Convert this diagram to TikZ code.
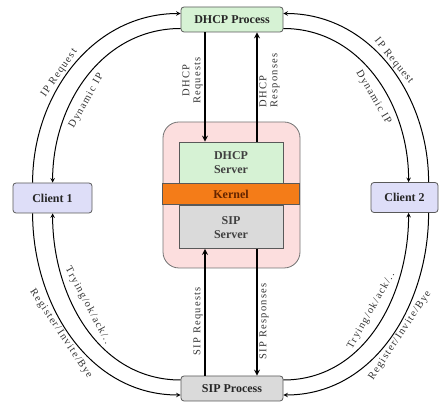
\documentclass[tikz,border=0pt]{standalone}
\usepackage{fontspec}
\setmainfont{Liberation Serif}
\newfontfamily\lblfont[LetterSpace=12]{Liberation Serif}
\usetikzlibrary{positioning, arrows.meta}
\definecolor{procgreen}{RGB}{214,242,212}
\definecolor{clientblue}{RGB}{222,222,248}
\definecolor{procgray}{RGB}{218,218,218}
\definecolor{hostpink}{RGB}{252,222,222}
\definecolor{kernelorange}{RGB}{244,124,24}
\definecolor{kerneltext}{RGB}{100,36,0}
\tikzset{
  process/.style={
    rectangle,
    rounded corners=3pt,
    draw=black!65, thick,
    minimum width=102pt,
    minimum height=25pt,
    inner sep=2pt,
    text centered,
    text=black!85,
    font=\fontsize{12}{14}\selectfont\bfseries
  },
  client/.style={
    process,
    fill=clientblue,
    minimum height=30pt
  },
  server/.style={
    rectangle,
    draw=black!65, thick,
    minimum width=104pt,
    inner sep=2pt,
    align=center,
    text=black!75,
    font=\fontsize{12}{14}\selectfont\bfseries
  },
  arrow/.style={
    draw=black,
    line width=1pt,
    ->,
    >=stealth
  },
  flow/.style={
    arrow,
    line width=1.6pt
  },
  lbl/.style={
    inner sep=1.5pt,
    text=black!80,
    font=\lblfont\fontsize{10.5}{11}\selectfont
  },
  inlbl/.style={
    lbl,
    inner sep=8pt
  }
}

\begin{document}
\begin{tikzpicture}[x=1pt, y=-1pt]
\useasboundingbox (0,0) rectangle (440,403);
% nodes
\node[rectangle, rounded corners=16pt, draw=black!55, thick, fill=hostpink,
      minimum width=137pt, minimum height=146pt] (host) at (231.5,195) {};

\node[server, fill=procgreen, minimum height=41pt] (dserv) at (231,162.5)
  {DHCP\\Server};
\node[server, fill=kernelorange, minimum width=137pt, minimum height=21pt,
      text=kerneltext, below = 0pt of dserv] (kernel) {Kernel};
\node[server, fill=procgray, minimum height=43pt, below = 0pt of kernel] (sserv)
  {SIP\\Server};

\node[process, fill=procgreen] (dhcpp) at (232,19.5) {DHCP Process};
\node[process, fill=procgray] (sipp) at (232,388.5) {SIP Process};
\node[client, minimum width=79pt] (c1) at (52.5,198) {Client 1};
\node[client, minimum width=67pt] (c2) at (404.5,197.5) {Client 2};

\coordinate (reqx) at (205,0);
\coordinate (rspx) at (257,0);

% edges
%% dhcp
\draw [flow] (dhcpp.south -| reqx) -- node[lbl, rotate=90, above, pos=0.44, align=center]
  {DHCP\\Requests} (dserv.north -| reqx);
\draw [flow] (dserv.north -| rspx) -- node[lbl, rotate=90, below, pos=0.56, align=left]
  {DHCP\\Responses} (dhcpp.south -| rspx);

%% sip
\draw [flow] (sipp.north -| reqx) -- node[lbl, rotate=90, above, pos=0.43]
  {SIP Requests} (sserv.south -| reqx);
\draw [flow] (sserv.south -| rspx) -- node[lbl, rotate=90, below, pos=0.57]
  {SIP Responses} (sipp.north -| rspx);

%% client 1
\draw [arrow] ([xshift=20pt]c1.north west) to[out=90, in=180]
  node[lbl, sloped, above, pos=0.44]{IP Request} ([yshift=6pt]dhcpp.west);
\draw [arrow] ([yshift=-9pt]dhcpp.west) to[out=180, in=90]
  node[inlbl, sloped, below, pos=0.6]{Dynamic IP} ([xshift=40pt]c1.north west);
\draw [arrow] ([xshift=20pt]c1.south west) to[out=-90, in=180]
  node[lbl, sloped, below, pos=0.46]{Register/Invite/Bye} ([yshift=-6.5pt]sipp.west);
\draw [arrow] ([yshift=8.5pt]sipp.west) to[out=180, in=-90]
  node[inlbl, sloped, above, pos=0.58]{Trying/ok/ack/..} ([xshift=40pt]c1.south west);

%% client 2
\draw [arrow] ([xshift=58pt]c2.north west) to[out=90, in=0]
  node[lbl, sloped, above, pos=0.5]{IP Request} ([yshift=6pt]dhcpp.east);
\draw [arrow] ([yshift=-9pt]dhcpp.east) to[out=0, in=90]
  node[inlbl, sloped, below, pos=0.58]{Dynamic IP} ([xshift=38pt]c2.north west);
\draw [arrow] ([xshift=58pt]c2.south west) to[out=-90, in=0]
  node[lbl, sloped, below, pos=0.47]{Register/Invite/Bye} ([yshift=-6.5pt]sipp.east);
\draw [arrow] ([yshift=8.5pt]sipp.east) to[out=0, in=-90]
  node[inlbl, sloped, above, pos=0.55]{Trying/ok/ack/..} ([xshift=38pt]c2.south west);

\end{tikzpicture}
\end{document}
